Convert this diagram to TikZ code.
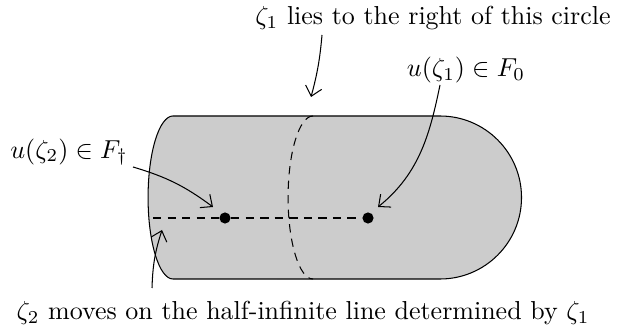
\documentclass[tikz,border=0pt]{standalone}
\usetikzlibrary{arrows.meta}
\begin{document}
\begin{tikzpicture}[x=0.385pt,y=0.385pt,
  lbl/.style={inner sep=0pt},
  pt/.style={circle,fill=black,inner sep=0pt,minimum size=4.3pt},
  dsh/.style={dash pattern=on 3.2pt off 2.4pt,thin},
  conn/.style={-{Straight Barb[length=3.6pt,width=6.4pt]},thin}]
\useasboundingbox (0,0) rectangle (620,333);
% body
\filldraw[fill=black!20,draw=black,thin]
  (173,217) -- (440,217) arc[start angle=90,end angle=-90,radius=31.38pt]
  -- (173,54) arc[start angle=270,end angle=90,x radius=9.6pt,y radius=31.38pt] -- cycle;
% dashed circle
\draw[dsh] (313,217) arc[start angle=90,end angle=270,x radius=9.6pt,y radius=31.38pt];
% dashed line and points
\coordinate (lend) at (153,115);
\node[pt] (p2) at (225,115) {};
\node[pt] (p1) at (368,115) {};
\draw[dsh] (lend) -- (p2) -- (p1);
% labels
\node[lbl] (top) at (433,315) {$\zeta_1$ lies to the right of this circle};
\node[lbl] (f0) at (466,263) {$u(\zeta_1)\in F_0$};
\node[lbl] (fd) at (69,181) {$u(\zeta_2)\in F_\dagger$};
\node[lbl] (bot) at (303,20) {$\zeta_2$ moves on the half-infinite line determined by $\zeta_1$};
\coordinate (circtop) at (311,236);
\coordinate (linept) at (162,103);
% connectors
\draw[conn] (322,298) to[bend left=5] (circtop);
\draw[conn] (440,248) .. controls (430,200) and (420,160) .. (378,126);
\draw[conn] (133,166) to[bend left=10] (213,126);
\draw[conn] (152,45) to[bend left=8] (linept);
\end{tikzpicture}
\end{document}
